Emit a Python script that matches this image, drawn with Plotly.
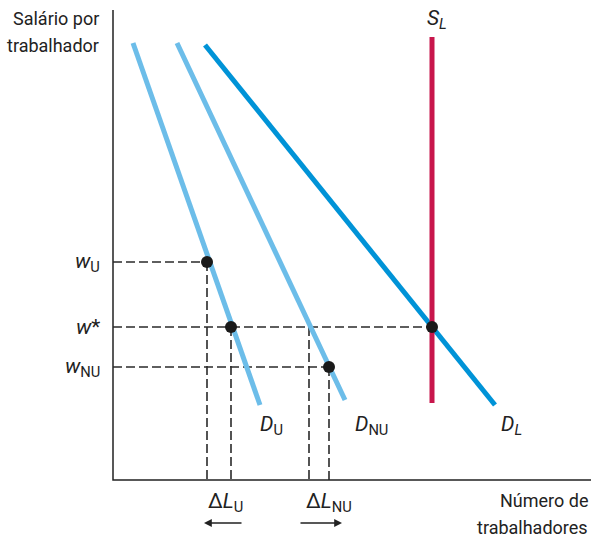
import plotly.graph_objects as go

# Data (abstract units: workers on x, wage on y)
DU_x = [20, 147];  DU_y = [437, 75]
DNU_x = [64, 232]; DNU_y = [437, 80]
DL_x = [92, 382];  DL_y = [435, 75]
SL_x = [319, 319]; SL_y = [443, 77]

wages = {"wU": 218, "wstar": 153, "wNU": 113}
L_U = 94
L_star_U = 118
L_star_NU = 196
L_NU = 216
L_eq = 319

pts_x = [L_U, L_star_U, L_NU, L_eq]
pts_y = [wages["wU"], wages["wstar"], wages["wNU"], wages["wstar"]]

FONT = "Liberation Sans Narrow, Roboto, Arial Narrow, sans-serif"
LIGHT = "#6cbde9"
DARK = "#0093d7"
RED = "#c8164c"
DASH = dict(color="#2a2a2a", width=1.6, dash="9px,4px")

fig = go.Figure()

# axes
fig.add_trace(go.Scatter(x=[0, 0, 478], y=[470, 0, 0], mode="lines",
                         line=dict(color="#222222", width=1.5), hoverinfo="skip"))

# dashed guides
for (wx, wy) in [(L_U, wages["wU"]), (L_star_U, wages["wstar"]), (L_NU, wages["wNU"])]:
    fig.add_trace(go.Scatter(x=[0, wx], y=[wy, wy], mode="lines", line=DASH, hoverinfo="skip"))
fig.add_trace(go.Scatter(x=[L_star_U, L_eq], y=[wages["wstar"], wages["wstar"]], mode="lines", line=DASH, hoverinfo="skip"))
for (qx, qy) in [(L_U, wages["wU"]), (L_star_U, wages["wstar"]), (L_star_NU, wages["wstar"]), (L_NU, wages["wNU"])]:
    fig.add_trace(go.Scatter(x=[qx, qx], y=[qy, 0], mode="lines", line=DASH, hoverinfo="skip"))

# curves
fig.add_trace(go.Scatter(x=DU_x, y=DU_y, mode="lines", line=dict(color=LIGHT, width=5), hoverinfo="skip"))
fig.add_trace(go.Scatter(x=DNU_x, y=DNU_y, mode="lines", line=dict(color=LIGHT, width=5), hoverinfo="skip"))
fig.add_trace(go.Scatter(x=DL_x, y=DL_y, mode="lines", line=dict(color=DARK, width=5), hoverinfo="skip"))
fig.add_trace(go.Scatter(x=SL_x, y=SL_y, mode="lines", line=dict(color=RED, width=5), hoverinfo="skip"))

# points
fig.add_trace(go.Scatter(x=pts_x, y=pts_y, mode="markers",
                         marker=dict(color="#1a1a1a", size=12), hoverinfo="skip"))

ann = []
def txt(x, y, s, size=17, xanchor="center", align="center"):
    ann.append(dict(x=x, y=y, xref="x", yref="y", text=s, showarrow=False,
                    font=dict(family=FONT, size=size, color="#222222"),
                    xanchor=xanchor, yanchor="middle", align=align))

txt(-12, 462, "Salário por", size=18, xanchor="right")
txt(-12, 435, "trabalhador", size=18, xanchor="right")
txt(477, -20, "Número de", size=18, xanchor="right")
txt(477, -47, "trabalhadores", size=18, xanchor="right")
txt(-11, wages["wU"], "<i>w</i><sub>U</sub>", size=21, xanchor="right")
txt(-11, wages["wstar"], "<i>w</i>*", size=21, xanchor="right")
txt(-11, wages["wNU"], "<i>w</i><sub>NU</sub>", size=21, xanchor="right")
txt(158, 55, "<i>D</i><sub>U</sub>", size=21)
txt(258, 55, "<i>D</i><sub>NU</sub>", size=21)
txt(398, 55, "<i>D</i><sub><i>L</i></sub>", size=21)
txt(324, 461, "<i>S</i><sub><i>L</i></sub>", size=21)
txt(112, -22, "Δ<i>L</i><sub>U</sub>", size=21)
txt(216, -22, "Δ<i>L</i><sub>NU</sub>", size=21)

ann.append(dict(x=91, y=-43, ax=130, ay=-43, xref="x", yref="y", axref="x", ayref="y",
                text="", showarrow=True, arrowhead=2, arrowsize=1.2, arrowwidth=1.3, arrowcolor="#222222"))
ann.append(dict(x=229, y=-43, ax=186, ay=-43, xref="x", yref="y", axref="x", ayref="y",
                text="", showarrow=True, arrowhead=2, arrowsize=1.2, arrowwidth=1.3, arrowcolor="#222222"))

fig.update_layout(
    width=593, height=539,
    margin=dict(l=0, r=0, t=0, b=0),
    plot_bgcolor="white", paper_bgcolor="white",
    showlegend=False,
    xaxis=dict(range=[-113, 480], visible=False, fixedrange=True),
    yaxis=dict(range=[-59, 480], visible=False, fixedrange=True),
    annotations=ann,
)

fig.write_html("out.html", config={"displayModeBar": False},
               post_script="document.body.style.margin='0';document.body.style.overflow='hidden';")
